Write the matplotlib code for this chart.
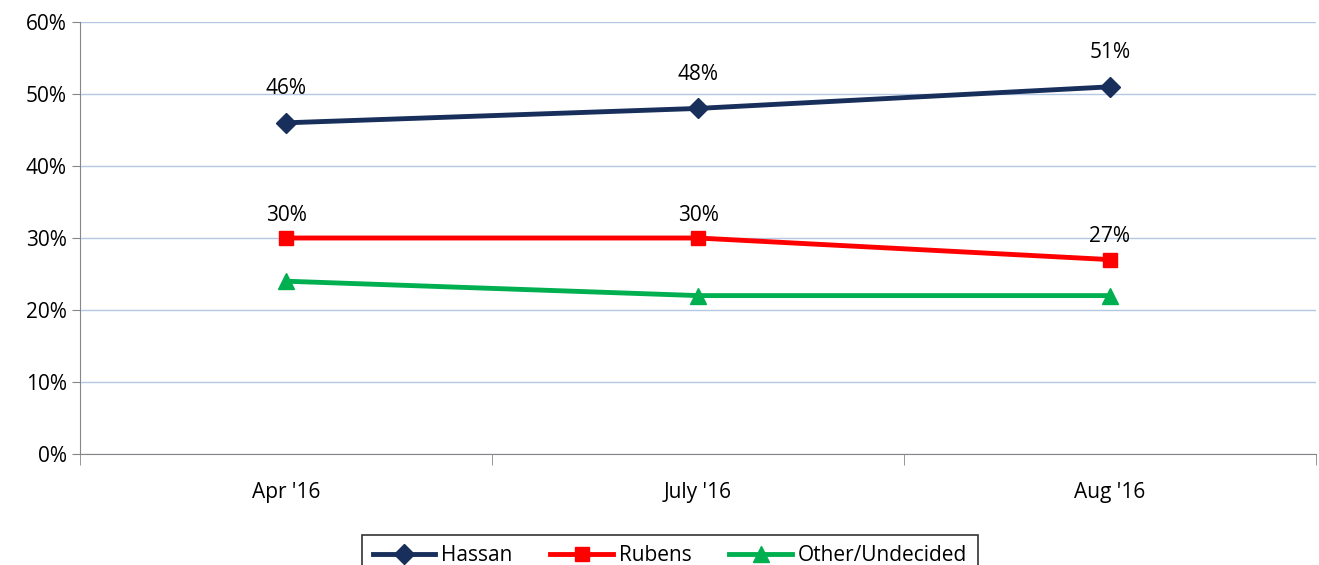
import matplotlib.pyplot as plt
from matplotlib.ticker import FixedLocator

plt.rcParams['font.family'] = ['Open Sans', 'DejaVu Sans']

months = ["Apr '16", "July '16", "Aug '16"]
hassan = [46, 48, 51]
rubens = [30, 30, 27]
other = [24, 22, 22]

fig = plt.figure(figsize=(13.19, 5.65), dpi=100)
ax = fig.add_axes([0.0607, 0.1965, 0.937, 0.7645])

x = range(len(months))
ax.plot(x, hassan, color='#172f5a', lw=3.5, marker='D', ms=10, label='Hassan')
ax.plot(x, rubens, color='#ff0000', lw=3.5, marker='s', ms=10, label='Rubens')
ax.plot(x, other, color='#00b050', lw=3.5, marker='^', ms=12, label='Other/Undecided')

for i, v in enumerate(hassan):
    ax.annotate(f'{v}%', (i, v), xytext=(0, 17), textcoords='offset points',
                ha='center', va='bottom', fontsize=15)
for i, v in enumerate(rubens):
    ax.annotate(f'{v}%', (i, v), xytext=(0, 9), textcoords='offset points',
                ha='center', va='bottom', fontsize=15)

ax.set_xlim(-0.5, 2.5)
ax.set_ylim(0, 60)
ax.set_yticks(range(0, 61, 10))
ax.set_yticklabels([f'{t}%' for t in range(0, 61, 10)], fontsize=15)
ax.set_xticks(list(x))
ax.set_xticklabels(months, fontsize=15)
ax.tick_params(axis='x', which='major', length=0, pad=20)
ax.xaxis.set_minor_locator(FixedLocator([-0.5, 0.5, 1.5, 2.5]))
ax.tick_params(axis='x', which='minor', length=8, color='#868686')
ax.tick_params(axis='y', length=6, color='#868686')
ax.grid(axis='y', color='#b3c8e3', lw=1)
ax.set_axisbelow(True)
for s in ['top', 'right']:
    ax.spines[s].set_visible(False)
for s in ['left', 'bottom']:
    ax.spines[s].set_color('#868686')

leg = fig.legend(loc='lower center', bbox_to_anchor=(0.508, -0.035), ncol=3,
                 fontsize=15, frameon=True, fancybox=False, edgecolor='black',
                 handlelength=3, handletextpad=0.3, columnspacing=1.8,
                 borderpad=0.5, borderaxespad=0.4)
leg.get_frame().set_linewidth(1.2)

fig.savefig('out.png', dpi=100)
